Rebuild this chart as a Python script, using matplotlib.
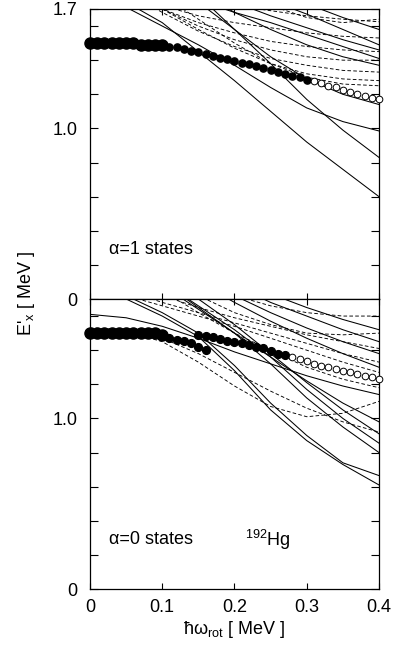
import matplotlib
matplotlib.use("Agg")
import matplotlib.pyplot as plt
import numpy as np

plt.rcParams["font.family"] = ["Liberation Sans", "DejaVu Sans"]
plt.rcParams["mathtext.default"] = "regular"

# rotational frequency grid of the calculated routhian curves (MeV)
omega = [0.0, 0.05, 0.10, 0.15, 0.20, 0.25, 0.30, 0.35, 0.40]

# alpha = 1 calculated levels (MeV)
top_solid = [
    [1.82, 1.74, 1.62, 1.45, 1.28, 1.10, 0.92, 0.76, 0.60],
    [1.79, 1.71, 1.60, 1.49, 1.37, 1.24, 1.12, 1.04, 0.985],
    [2.30, 2.10, 1.95, 1.78, 1.58, 1.38, 1.17, 0.99, 0.83],
    [2.10, 2.00, 1.88, 1.74, 1.58, 1.42, 1.29, 1.20, 1.14],
    [2.10, 2.00, 1.90, 1.80, 1.68, 1.58, 1.49, 1.42, 1.37],
    [2.10, 2.00, 1.92, 1.83, 1.74, 1.66, 1.59, 1.52, 1.46],
    [2.20, 2.10, 2.00, 1.90, 1.82, 1.75, 1.67, 1.58, 1.49],
    [2.20, 2.10, 2.00, 1.95, 1.88, 1.80, 1.73, 1.65, 1.58],
    [2.00, 1.95, 1.85, 1.75, 1.68, 1.62, 1.55, 1.48, 1.41],
]
top_dashed = [
    [2.00, 1.90, 1.80, 1.75, 1.72, 1.69, 1.66, 1.64, 1.625],
    [2.00, 1.85, 1.72, 1.66, 1.62, 1.59, 1.56, 1.54, 1.53],
    [1.95, 1.82, 1.70, 1.62, 1.56, 1.51, 1.48, 1.46, 1.45],
    [1.90, 1.80, 1.70, 1.60, 1.52, 1.46, 1.42, 1.40, 1.40],
    [1.90, 1.80, 1.68, 1.57, 1.48, 1.41, 1.37, 1.34, 1.33],
    [1.90, 1.80, 1.70, 1.58, 1.47, 1.38, 1.32, 1.29, 1.28],
    [2.00, 1.90, 1.78, 1.64, 1.50, 1.38, 1.30, 1.26, 1.25],
    [2.20, 2.10, 2.00, 1.90, 1.80, 1.72, 1.65, 1.62, 1.64],
]

# alpha = 0 calculated levels (MeV)
bot_solid = [
    [1.61, 1.59, 1.54, 1.47, 1.39, 1.32, 1.25, 1.19, 1.14],
    [1.85, 1.70, 1.60, 1.48, 1.28, 1.05, 0.87, 0.73, 0.61],
    [1.87, 1.72, 1.62, 1.50, 1.31, 1.09, 0.90, 0.74, 0.665],
    [2.10, 1.95, 1.80, 1.65, 1.50, 1.32, 1.12, 0.95, 0.80],
    [2.10, 1.95, 1.80, 1.66, 1.52, 1.36, 1.17, 1.00, 0.855],
    [2.00, 1.90, 1.78, 1.64, 1.50, 1.36, 1.22, 1.09, 0.98],
    [2.10, 2.00, 1.85, 1.70, 1.55, 1.38, 1.21, 1.05, 0.91],
    [2.20, 2.10, 1.95, 1.80, 1.68, 1.57, 1.47, 1.38, 1.30],
    [2.20, 2.10, 2.00, 1.85, 1.72, 1.62, 1.53, 1.45, 1.38],
    [2.30, 2.20, 2.05, 1.90, 1.78, 1.68, 1.60, 1.52, 1.45],
    [2.30, 2.20, 2.10, 2.00, 1.85, 1.73, 1.65, 1.58, 1.52],
]
bot_dashed = [
    [1.52, 1.51, 1.45, 1.33, 1.19, 1.07, 1.01, 1.03, 1.10],
    [1.53, 1.52, 1.47, 1.38, 1.27, 1.16, 1.06, 0.98, 0.92],
    [1.90, 1.72, 1.66, 1.60, 1.54, 1.47, 1.40, 1.33, 1.27],
    [1.90, 1.75, 1.68, 1.62, 1.56, 1.50, 1.44, 1.38, 1.33],
    [1.90, 1.80, 1.72, 1.65, 1.59, 1.54, 1.49, 1.45, 1.41],
    [2.00, 1.85, 1.75, 1.62, 1.50, 1.40, 1.30, 1.23, 1.18],
    [2.20, 2.00, 1.85, 1.72, 1.62, 1.55, 1.50, 1.49, 1.50],
    [2.30, 2.10, 1.95, 1.82, 1.72, 1.66, 1.62, 1.60, 1.60],
]

# experimental points, alpha = 1
top_big_x = [0.0, 0.01, 0.02, 0.03, 0.04, 0.05, 0.06, 0.07, 0.08, 0.09, 0.10]
top_big_e = [1.50, 1.50, 1.50, 1.50, 1.50, 1.50, 1.50, 1.49, 1.49, 1.49, 1.49]
top_fill_x = [0.11, 0.12, 0.13, 0.14, 0.15, 0.16, 0.17, 0.18, 0.19, 0.20,
              0.21, 0.22, 0.23, 0.24, 0.25, 0.26, 0.27, 0.28, 0.29, 0.30]
top_fill_e = [1.48, 1.475, 1.465, 1.455, 1.445, 1.435, 1.425, 1.415, 1.405, 1.395,
              1.385, 1.375, 1.365, 1.355, 1.345, 1.33, 1.32, 1.31, 1.30, 1.285]
top_open_x = [0.31, 0.32, 0.33, 0.34, 0.35, 0.36, 0.37, 0.38, 0.39, 0.40]
top_open_e = [1.275, 1.265, 1.25, 1.24, 1.225, 1.215, 1.20, 1.19, 1.18, 1.17]

# experimental points, alpha = 0
bot_big_x = [0.0, 0.01, 0.02, 0.03, 0.04, 0.05, 0.06, 0.07, 0.08, 0.09, 0.10]
bot_big_e = [1.50, 1.50, 1.50, 1.50, 1.50, 1.50, 1.50, 1.50, 1.50, 1.50, 1.49]
bot_low_x = [0.11, 0.12, 0.13, 0.14, 0.15, 0.16]
bot_low_e = [1.47, 1.46, 1.455, 1.44, 1.42, 1.40]
bot_fill_x = [0.15, 0.16, 0.17, 0.18, 0.19, 0.20, 0.21, 0.22, 0.23, 0.24, 0.25, 0.26, 0.27]
bot_fill_e = [1.49, 1.485, 1.475, 1.465, 1.455, 1.45, 1.44, 1.43, 1.42, 1.41, 1.395, 1.38, 1.37]
bot_open_x = [0.28, 0.29, 0.30, 0.31, 0.32, 0.33, 0.34, 0.35, 0.36, 0.37, 0.38, 0.39, 0.40]
bot_open_e = [1.36, 1.35, 1.335, 1.32, 1.31, 1.30, 1.29, 1.28, 1.27, 1.26, 1.25, 1.24, 1.23]

fig = plt.figure(figsize=(4.01, 6.51), dpi=100)
ax_top = fig.add_axes([0.2244, 0.5407, 0.7207, 0.4455])
ax_bot = fig.add_axes([0.2244, 0.0952, 0.7207, 0.4455])

dash = (0, (4, 2.5))


def draw_panel(ax, solid, dashed):
    for e in solid:
        ax.plot(omega, e, color="black", lw=0.75)
    for e in dashed:
        ax.plot(omega, e, color="black", lw=0.65, linestyle=dash)


draw_panel(ax_top, top_solid, top_dashed)
draw_panel(ax_bot, bot_solid, bot_dashed)

ax_top.plot(top_big_x, top_big_e, "o", color="black", ms=8, clip_on=False, zorder=5)
ax_top.plot(top_fill_x, top_fill_e, "o", color="black", ms=5.2, zorder=5)
ax_top.plot(top_open_x, top_open_e, "o", mfc="white", mec="black", mew=0.7, ms=4.8,
            clip_on=False, zorder=5)

ax_bot.plot(bot_big_x, bot_big_e, "o", color="black", ms=8, clip_on=False, zorder=5)
ax_bot.plot(bot_low_x, bot_low_e, "o", color="black", ms=5.6, zorder=5)
ax_bot.plot(bot_fill_x, bot_fill_e, "o", color="black", ms=5.6, zorder=5)
ax_bot.plot(bot_open_x, bot_open_e, "o", mfc="white", mec="black", mew=0.7, ms=4.8,
            clip_on=False, zorder=5)

ytk = [0.0, 0.2, 0.4, 0.6, 0.8, 1.0, 1.2, 1.4, 1.6]
for ax in (ax_top, ax_bot):
    ax.set_xlim(0, 0.4)
    ax.set_ylim(0, 1.7)
    ax.set_xticks([0.0, 0.1, 0.2, 0.3, 0.4])
    ax.set_yticks(ytk)
    ax.tick_params(direction="in", top=True, right=True, labelsize=13)
    ax.tick_params(axis="y", length=6, width=0.8, pad=9)
    ax.tick_params(axis="x", length=4, width=0.8, pad=7)
    for s in ax.spines.values():
        s.set_linewidth(0.9)

ax_top.set_yticks(ytk + [1.7])
ax_top.set_yticklabels(["0", "", "", "", "", "1.0", "", "", "", "1.7"])
ax_top.set_xticklabels([])
ax_bot.set_yticklabels(["0", "", "", "", "", "1.0", "", "", ""])
ax_bot.set_xticklabels(["0", "0.1", "0.2", "0.3", "0.4"])

ax_top.text(0.027, 0.29, "α=1 states", fontsize=13, va="center")
ax_bot.text(0.027, 0.29, "α=0 states", fontsize=13, va="center")
ax_bot.text(0.215, 0.29, "$^{192}$Hg", fontsize=13, va="center")

ax_bot.set_xlabel("ħω$_{rot}$ [ MeV ]", fontsize=13, labelpad=2)
fig.text(0.067, 0.55, "E'$_{x}$ [ MeV ]", rotation=90, fontsize=13,
         ha="center", va="center")

fig.savefig("out.png", dpi=100)
